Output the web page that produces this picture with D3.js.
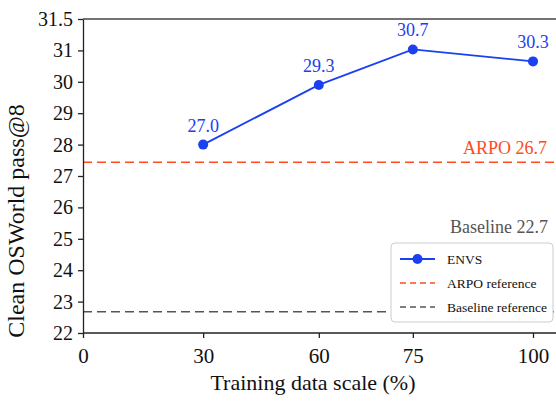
<!DOCTYPE html>
<html>
<head>
<meta charset="utf-8">
<script src="https://cdn.jsdelivr.net/npm/d3@7"></script>
<style>
  body { margin: 0; background: #fff; }
  svg text { font-family: "Liberation Serif", "Times New Roman", serif !important; }
</style>
</head>
<body>
<div id="chart"></div>
<script>
var scales = [30, 60, 75, 100];
var envs = [28.0, 29.9, 31.03, 30.65];
var envsLabels = ["27.0", "29.3", "30.7", "30.3"];
var arpoRef = 27.44;
var baselineRef = 22.68;
var xTicks = [0, 30, 60, 75, 100];
var xTickSpots = [0, 0.267, 0.524, 0.733, 1];
var yTicks = [22, 23, 24, 25, 26, 27, 28, 29, 30, 31, 32];
var yTickLabels = ["22", "23", "24", "25", "26", "27", "28", "29", "30", "31", "31.5"];

var svgWidth = 556;
var svgHeight = 402;
var margin = { top: 19, right: 0, bottom: 69, left: 83 };
var width = svgWidth - margin.left - margin.right;
var height = svgHeight - margin.top - margin.bottom;
var span = 450;

var serif = "Liberation Serif";
var blue = "#1a40f0";
var red = "#ff4a22";
var grey = "#555";

var svg = d3.select("#chart").append("svg")
  .attr("width", svgWidth)
  .attr("height", svgHeight)
  .attr("font-family", serif);

var g = svg.append("g")
  .attr("transform", `translate(${margin.left}, ${margin.top})`);

var x = d3.scaleLinear()
  .domain(xTicks)
  .range(xTickSpots.map(f => f * span));

var y = d3.scaleLinear()
  .domain([22, 32])
  .range([height, 0]);

// reference lines
g.append("line")
  .attr("x1", 0).attr("x2", width)
  .attr("y1", y(arpoRef)).attr("y2", y(arpoRef))
  .attr("stroke", red).attr("stroke-width", 1.5)
  .attr("stroke-dasharray", "9,5");

g.append("line")
  .attr("x1", 0).attr("x2", width)
  .attr("y1", y(baselineRef)).attr("y2", y(baselineRef))
  .attr("stroke", grey).attr("stroke-width", 1.5)
  .attr("stroke-dasharray", "9,5");

g.append("text")
  .attr("x", 464).attr("y", y(arpoRef) - 8)
  .attr("text-anchor", "end")
  .attr("fill", red)
  .attr("font-size", "18px")
  .text("ARPO " + "26.7");

g.append("text")
  .attr("x", 465).attr("y", y(baselineRef) - 79)
  .attr("text-anchor", "end")
  .attr("fill", grey)
  .attr("font-size", "18px")
  .text("Baseline " + baselineRef.toFixed(1));

// axes
var xAxis = d3.axisBottom(x).tickValues(xTicks).tickSize(5).tickSizeOuter(0);
var yAxis = d3.axisLeft(y).tickValues(yTicks).tickSize(5).tickSizeOuter(0)
  .tickFormat((d, i) => yTickLabels[i]);

var xg = g.append("g")
  .attr("transform", `translate(0, ${height})`)
  .call(xAxis)
  .attr("font-family", serif);
xg.select(".domain").attr("d", `M0,0H${width}`);
xg.selectAll("text").attr("font-size", "21px").attr("dy", "1.05em").attr("fill", "#111");

var yg = g.append("g").call(yAxis).attr("font-family", serif);
yg.selectAll("text").attr("font-size", "20px").attr("dx", "-0.1em").attr("fill", "#111");

g.selectAll(".domain, .tick line").attr("stroke", "#222").attr("stroke-width", 1.3);

g.append("line")
  .attr("x1", 0).attr("x2", width)
  .attr("y1", 0).attr("y2", 0)
  .attr("stroke", "#444").attr("stroke-width", 1.3);

// axis titles
g.append("text")
  .attr("x", 230).attr("y", height + 57)
  .attr("text-anchor", "middle")
  .attr("font-size", "22px")
  .attr("fill", "#111")
  .text("Training data scale (%)");

g.append("text")
  .attr("transform", `translate(-59, ${202}) rotate(-90)`)
  .attr("text-anchor", "middle")
  .attr("font-size", "24px")
  .attr("fill", "#111")
  .text("Clean OSWorld pass@8");

// ENVS series
var line = d3.line()
  .x((d, i) => x(scales[i]))
  .y(d => y(d));

g.append("path")
  .datum(envs)
  .attr("fill", "none")
  .attr("stroke", blue)
  .attr("stroke-width", 1.8)
  .attr("d", line);

g.selectAll(".pt")
  .data(envs)
  .enter()
  .append("circle")
  .attr("cx", (d, i) => x(scales[i]))
  .attr("cy", d => y(d))
  .attr("r", 5)
  .attr("fill", blue);

g.selectAll(".lbl")
  .data(envs)
  .enter()
  .append("text")
  .attr("x", (d, i) => x(scales[i]))
  .attr("y", d => y(d) - 13)
  .attr("text-anchor", "middle")
  .attr("font-size", "18px")
  .attr("fill", blue)
  .text((d, i) => envsLabels[i]);

// legend
var legend = g.append("g")
  .attr("transform", `translate(308, 224)`);

legend.append("rect")
  .attr("width", 162).attr("height", 79)
  .attr("rx", 4)
  .attr("fill", "#fff")
  .attr("stroke", "#ccc");

var items = [
  { name: "ENVS", color: blue, dash: null },
  { name: "ARPO reference", color: red, dash: "6,4" },
  { name: "Baseline reference", color: grey, dash: "6,4" }
];

items.forEach((d, i) => {
  var row = legend.append("g").attr("transform", `translate(0, ${16 + i * 24})`);
  row.append("line")
    .attr("x1", 9).attr("x2", 44)
    .attr("stroke", d.color)
    .attr("stroke-width", d.dash ? 1.5 : 1.8)
    .attr("stroke-dasharray", d.dash);
  if (!d.dash) {
    row.append("circle").attr("cx", 26.5).attr("r", 5).attr("fill", d.color);
  }
  row.append("text")
    .attr("x", 56).attr("dy", "0.35em")
    .attr("font-size", "13.5px")
    .attr("fill", "#111")
    .text(d.name);
});
</script>
</body>
</html>
